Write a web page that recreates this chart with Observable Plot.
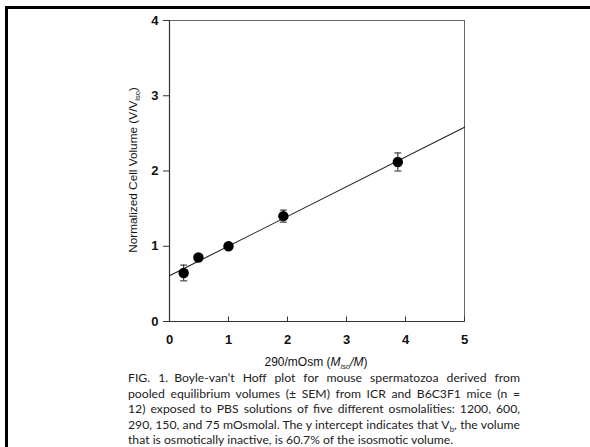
<!DOCTYPE html>
<html>
<head>
<meta charset="utf-8">
<script src="https://cdn.jsdelivr.net/npm/d3@7"></script>
<script src="https://cdn.jsdelivr.net/npm/@observablehq/plot@0.6"></script>
<style>
  html, body { margin: 0; padding: 0; background: #fff; }
  body { width: 590px; height: 447px; position: relative; overflow: hidden; }
  #frame { position: absolute; left: 5px; top: 6px; width: 600px; height: 460px;
           border-top: 3px solid #000; border-left: 3px solid #000; box-sizing: border-box; }
  #chart { position: absolute; left: 0; top: 0; }
  #caption { position: absolute; left: 128px; top: 370px; width: 392px;
             font-family: Lato, "Open Sans", sans-serif; font-size: 12.2px; line-height: 15.5px; color: #222; }
  #caption div { height: 15.5px; text-align: justify; text-align-last: justify; white-space: nowrap; }
  #caption div.last { text-align-last: left; }
  #caption sub { font-size: 8px; line-height: 0; vertical-align: baseline; position: relative; top: 3px; }
</style>
</head>
<body>
<div id="frame"></div>
<div id="chart"></div>
<div id="caption"></div>
<script>
// Data
const xs = [0.24, 0.49, 1.0, 1.93, 3.87];          // 290/mOsm
const ys = [0.645, 0.85, 1.0, 1.40, 2.12];          // V/Viso
const sem = [0.105, 0.03, 0.02, 0.08, 0.12];        // ± SEM
const fitIntercept = 0.607;
const fitSlope = 0.395;
const fitRange = [0, 5];
const xTicks = [0, 1, 2, 3, 4, 5];
const yTicks = [0, 1, 2, 3, 4];
const captionLines = [
  "FIG. 1.\u2002Boyle-van\u2019t Hoff plot for mouse spermatozoa derived from",
  "pooled equilibrium volumes (\u00b1 SEM) from ICR and B6C3F1 mice (n =",
  "12) exposed to PBS solutions of five different osmolalities: 1200, 600,",
  "290, 150, and 75 mOsmolal. The y intercept indicates that V<sub>b</sub>, the volume",
  "that is osmotically inactive, is 60.7% of the isosmotic volume."
];

const pts = xs.map((x, i) => ({x, y: ys[i], lo: ys[i] - sem[i], hi: ys[i] + sem[i]}));
const fit = fitRange.map(x => ({x, y: fitIntercept + fitSlope * x}));

const capSymbol = { draw(ctx, size) { const r = Math.sqrt(size / Math.PI); ctx.moveTo(-r, 0); ctx.lineTo(r, 0); } };
const tickUp = { draw(ctx, size) { const r = Math.sqrt(size / Math.PI); ctx.moveTo(0, 0); ctx.lineTo(0, -r); } };

const chart = Plot.plot({
  width: 590,
  height: 370,
  marginLeft: 169,
  marginRight: 126,
  marginTop: 20,
  marginBottom: 49,
  style: { fontFamily: "Liberation Sans, Arial, sans-serif", fontSize: "13px", color: "#111", background: "transparent" },
  x: { domain: [0, 5] },
  y: { domain: [0, 4] },
  marks: [
    Plot.frame({ stroke: "#666", strokeWidth: 1 }),
    Plot.axisY({ ticks: yTicks, tickSize: 6, tickPadding: 5, tickFormat: d3.format("d"), label: null, stroke: "#333", fontWeight: "bold", fontSize: 13 }),
    Plot.axisX({ ticks: xTicks, tickSize: 0, tickPadding: 13, tickFormat: d3.format("d"), label: null, fontWeight: "bold", fontSize: 13 }),
    Plot.dot(xTicks, { x: d => d, y: 0, symbol: tickUp, r: 5, stroke: "#333", strokeWidth: 1 }),
    Plot.ruleY([0], { stroke: "#333", strokeWidth: 1.2 }),
    Plot.ruleX([0], { stroke: "#333", strokeWidth: 1.2 }),
    Plot.line(fit, { x: "x", y: "y", stroke: "#222", strokeWidth: 1.1 }),
    Plot.ruleX(pts, { x: "x", y1: "lo", y2: "hi", stroke: "#222", strokeWidth: 1 }),
    Plot.dot(pts, { x: "x", y: "lo", symbol: capSymbol, r: 3.5, stroke: "#222", strokeWidth: 1 }),
    Plot.dot(pts, { x: "x", y: "hi", symbol: capSymbol, r: 3.5, stroke: "#222", strokeWidth: 1 }),
    Plot.dot(pts, { x: "x", y: "y", r: 5.2, fill: "#000", stroke: "none" })
  ]
});
document.getElementById("chart").appendChild(chart);

// Axis titles with sub/italic parts
const svg = d3.select(chart);
const xt = svg.append("text")
  .attr("x", 316).attr("y", 366)
  .attr("text-anchor", "middle")
  .attr("font-family", "Liberation Sans, Arial, sans-serif")
  .attr("font-size", 12).attr("fill", "#111");
xt.append("tspan").text("290/mOsm (");
xt.append("tspan").attr("font-style", "italic").text("M");
xt.append("tspan").attr("font-size", 7.5).attr("dy", 3).attr("font-style", "italic").text("iso");
xt.append("tspan").attr("dy", -3).attr("font-style", "italic").text("/M");
xt.append("tspan").text(")");

const yt = svg.append("text")
  .attr("transform", "translate(137,170) rotate(-90)")
  .attr("text-anchor", "middle")
  .attr("font-family", "Liberation Sans, Arial, sans-serif")
  .attr("font-size", 11.8).attr("fill", "#111");
yt.append("tspan").text("Normalized Cell Volume (V/V");
yt.append("tspan").attr("font-size", 7.5).attr("dy", 3).text("iso");
yt.append("tspan").attr("dy", -3).text(")");

const cap = document.getElementById("caption");
captionLines.forEach((t, i) => {
  const d = document.createElement("div");
  if (i === captionLines.length - 1) d.className = "last";
  d.innerHTML = t;
  cap.appendChild(d);
});
</script>
</body>
</html>
